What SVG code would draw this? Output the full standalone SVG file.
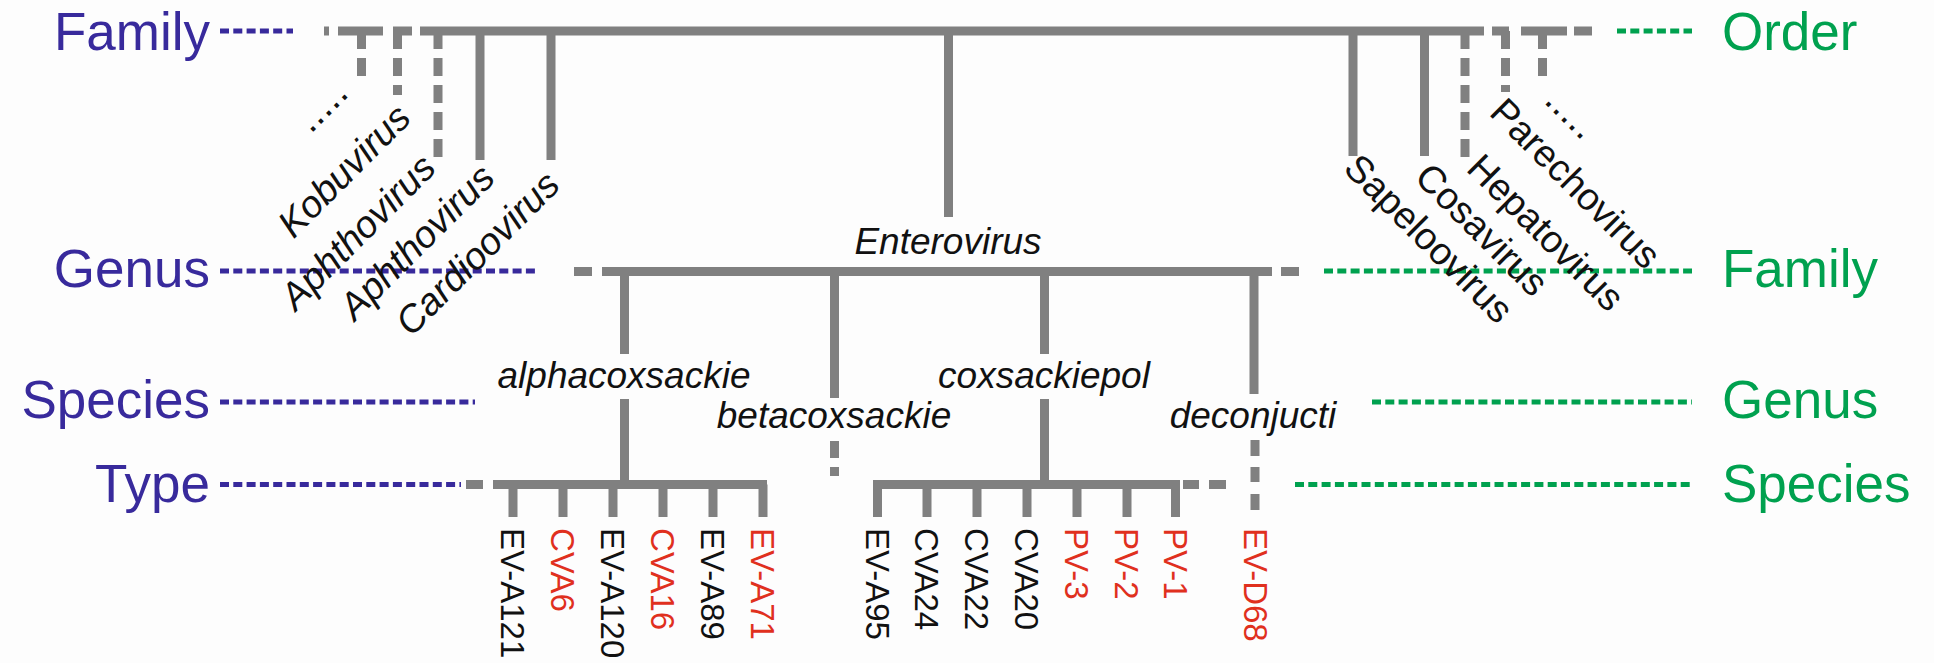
<svg xmlns="http://www.w3.org/2000/svg" width="1934" height="663" viewBox="0 0 1934 663">
  <style>
    .bg{fill:#fdfdfd}
    .br{stroke:#808080;stroke-width:9;fill:none;stroke-linecap:butt}
    .dsh{stroke-dasharray:18 9}
    .lvL{stroke:#382a9c;stroke-width:5;stroke-dasharray:9 4.3;fill:none}
    .lvR{stroke:#00a14f;stroke-width:5;stroke-dasharray:9 4.3;fill:none}
    .rank{font-family:"Liberation Sans",Arial,sans-serif;font-size:53px}
    .rL{fill:#382a9c;text-anchor:end}
    .rR{fill:#00a14f;text-anchor:start}
    .lab{font-family:"Liberation Sans",Arial,sans-serif;font-size:37px;fill:#111}
    .rot{font-size:38px}
    .dots{font-size:40px}
    .it{font-style:italic}
    .mid{text-anchor:middle}
    .end{text-anchor:end}
    .typ{font-family:"Liberation Sans",Arial,sans-serif;font-size:33px;fill:#111}
    .red{fill:#e0301e}
  </style>
  <rect class="bg" x="0" y="0" width="1934" height="663"/>

  <!-- rank scale, left -->
  <g id="ranks-left">
    <text class="rank rL" x="210" y="50">Family</text>
    <text class="rank rL" x="210" y="287">Genus</text>
    <text class="rank rL" x="210" y="418">Species</text>
    <text class="rank rL" x="210" y="502">Type</text>
    <line class="lvL" x1="220" y1="31" x2="293" y2="31"/>
    <line class="lvL" x1="220" y1="271" x2="536" y2="271"/>
    <line class="lvL" x1="220" y1="402" x2="475" y2="402"/>
    <line class="lvL" x1="220" y1="484.5" x2="461" y2="484.5"/>
  </g>

  <!-- rank scale, right -->
  <g id="ranks-right">
    <text class="rank rR" x="1722" y="50">Order</text>
    <text class="rank rR" x="1722" y="287">Family</text>
    <text class="rank rR" x="1722" y="418">Genus</text>
    <text class="rank rR" x="1722" y="502">Species</text>
    <line class="lvR" x1="1617" y1="31" x2="1692" y2="31"/>
    <line class="lvR" x1="1324" y1="271" x2="1692" y2="271"/>
    <line class="lvR" x1="1372" y1="402" x2="1692" y2="402"/>
    <line class="lvR" x1="1295" y1="484.5" x2="1692" y2="484.5"/>
  </g>

  <!-- branches -->
  <g id="connectors">
    <!-- order level -->
    <path class="br" d="M324 31H329M338 31H383M393 31H412M420 31H1484M1492 31H1509M1521 31H1567M1574 31H1592"/>
    <line class="br dsh" x1="361.5" y1="31" x2="361.5" y2="76"/>
    <line class="br dsh" x1="397.5" y1="31" x2="397.5" y2="95"/>
    <line class="br dsh" x1="438" y1="31" x2="438" y2="157"/>
    <line class="br" x1="480" y1="31" x2="480" y2="160"/>
    <line class="br" x1="551" y1="31" x2="551" y2="160"/>
    <line class="br" x1="948.5" y1="31" x2="948.5" y2="217"/>
    <line class="br" x1="1353" y1="31" x2="1353" y2="156"/>
    <line class="br" x1="1424.5" y1="31" x2="1424.5" y2="156"/>
    <line class="br dsh" x1="1465" y1="31" x2="1465" y2="157"/>
    <line class="br dsh" x1="1505.5" y1="31" x2="1505.5" y2="92"/>
    <line class="br dsh" x1="1542.5" y1="31" x2="1542.5" y2="76"/>

    <!-- genus level -->
    <path class="br" d="M574 271.5H592M602 271.5H1272M1281 271.5H1299"/>
    <path class="br" d="M624.5 271.5V354M624.5 399V484.5"/>
    <path class="br" d="M834.5 271.5V398M834.5 441V458M834.5 467V476"/>
    <path class="br" d="M1044.5 271.5V354M1044.5 399V484.5"/>
    <path class="br" d="M1254 271.5V394M1255 440V456M1255 467V482M1255 494V510"/>

    <!-- type level -->
    <path class="br" d="M466 484.5H483M493 484.5H767"/>
    <path class="br" d="M513 484.5V517M563 484.5V517M613 484.5V517M663 484.5V517M713 484.5V517M763 484.5V517"/>
    <path class="br" d="M873 484.5H1180M1183 484.5H1199M1209 484.5H1226"/>
    <path class="br" d="M877.5 484.5V517M927 484.5V517M977 484.5V517M1027 484.5V517M1077 484.5V517M1127 484.5V517M1175.5 484.5V517"/>
  </g>

  <!-- genera of the order -->
  <g id="genera-left">
    <text class="lab dots end" transform="translate(350 95) rotate(-45)">.....</text>
    <text class="lab rot it end" transform="translate(413 120) rotate(-45)">Kobuvirus</text>
    <text class="lab rot it end" transform="translate(438 170) rotate(-45)">Aphthovirus</text>
    <text class="lab rot it end" transform="translate(497 180) rotate(-45)">Aphthovirus</text>
    <text class="lab rot it end" transform="translate(562 187) rotate(-45)">Cardioovirus</text>
  </g>
  <g id="genera-right">
    <text class="lab rot" transform="translate(1342 170) rotate(45)">Sapeloovirus</text>
    <text class="lab rot" transform="translate(1413 179) rotate(45)">Cosavirus</text>
    <text class="lab rot" transform="translate(1465 170) rotate(45)">Hepatovirus</text>
    <text class="lab rot" transform="translate(1488 114) rotate(45)">Parechovirus</text>
    <text class="lab dots" transform="translate(1543 102) rotate(45)">.....</text>
  </g>

  <g id="enterovirus">
    <text class="lab it mid" x="948" y="254">Enterovirus</text>
  </g>

  <!-- species -->
  <g id="sp-alpha"><text class="lab it mid" x="624" y="388">alphacoxsackie</text></g>
  <g id="sp-beta"><text class="lab it mid" x="834" y="428">betacoxsackie</text></g>
  <g id="sp-coxpol"><text class="lab it mid" x="1044" y="388">coxsackiepol</text></g>
  <g id="sp-deconj"><text class="lab it mid" x="1253" y="428">deconjucti</text></g>

  <!-- types -->
  <g id="types-alpha">
    <text class="typ" transform="translate(501 528) rotate(90)">EV-A121</text>
    <text class="typ red" transform="translate(551 528) rotate(90)">CVA6</text>
    <text class="typ" transform="translate(601 528) rotate(90)">EV-A120</text>
    <text class="typ red" transform="translate(651 528) rotate(90)">CVA16</text>
    <text class="typ" transform="translate(701 528) rotate(90)">EV-A89</text>
    <text class="typ red" transform="translate(751 528) rotate(90)">EV-A71</text>
  </g>
  <g id="types-coxpol">
    <text class="typ" transform="translate(865.5 528) rotate(90)">EV-A95</text>
    <text class="typ" transform="translate(915 528) rotate(90)">CVA24</text>
    <text class="typ" transform="translate(965 528) rotate(90)">CVA22</text>
    <text class="typ" transform="translate(1015 528) rotate(90)">CVA20</text>
    <text class="typ red" transform="translate(1065 528) rotate(90)">PV-3</text>
    <text class="typ red" transform="translate(1115 528) rotate(90)">PV-2</text>
    <text class="typ red" transform="translate(1164 528) rotate(90)">PV-1</text>
  </g>
  <g id="types-deconj">
    <text class="typ red" transform="translate(1244 528) rotate(90)">EV-D68</text>
  </g>
</svg>
